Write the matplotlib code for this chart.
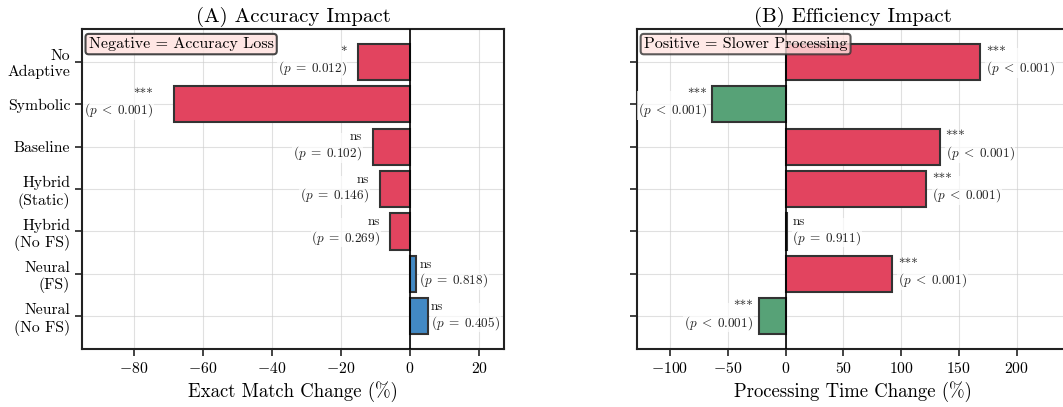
import numpy as np
import matplotlib
matplotlib.use("Agg")
import matplotlib.pyplot as plt

plt.rcParams['font.family'] = ['cmr10']
plt.rcParams['mathtext.fontset'] = 'cm'
plt.rcParams['axes.formatter.use_mathtext'] = True
plt.rcParams['axes.unicode_minus'] = True

# data
conditions = ["No\nAdaptive", "Symbolic", "Baseline", "Hybrid\n(Static)",
              "Hybrid\n(No FS)", "Neural\n(FS)", "Neural\n(No FS)"]
acc_change = [-15.0, -68.4, -10.8, -8.8, -5.7, 1.7, 5.1]
acc_stars = ["*", "***", "ns", "ns", "ns", "ns", "ns"]
acc_p = ["= 0.012", "< 0.001", "= 0.102", "= 0.146", "= 0.269", "= 0.818", "= 0.405"]
time_change = [168.6, -63.3, 133.6, 122.0, 1.0, 92.3, -23.1]
time_stars = ["***", "***", "***", "***", "ns", "***", "***"]
time_p = ["< 0.001", "< 0.001", "< 0.001", "< 0.001", "= 0.911", "< 0.001", "< 0.001"]

RED = '#E2445F'
BLUE = '#4289C4'
GREEN = '#57A277'
ANN = dict(va='center', fontsize=9.5, color='#222222', linespacing=1.05, zorder=4,
           bbox=dict(facecolor='white', edgecolor='none', alpha=0.7, pad=0.5))

fig = plt.figure(figsize=(10.63, 4.07), dpi=100)
ax1 = fig.add_axes([0.0771, 0.1425, 0.397, 0.786])
ax2 = fig.add_axes([0.5992, 0.1425, 0.4060, 0.786])

y = np.arange(len(conditions))


def style(ax):
    ax.grid(True, color='#cccccc', alpha=0.6, lw=0.8)
    ax.set_axisbelow(True)
    for s in ax.spines.values():
        s.set_color('#222222')
        s.set_linewidth(1.5)
    ax.tick_params(axis='both', direction='out', length=5, width=1.2,
                   labelsize=11.3, color='#222222')
    ax.axvline(0, color='black', lw=1.2, zorder=3)


def label(stars, p):
    rel, num = p.split()
    return stars + "\n($p\\;" + rel + "\\;" + num + "$)"


# (A) accuracy
cols1 = [RED if v < 0 else BLUE for v in acc_change]
ax1.barh(y, acc_change, height=0.85, color=cols1, edgecolor='#333333',
         linewidth=1.5, zorder=2)
for i, v in enumerate(acc_change):
    if v < 0:
        ax1.text(v * 1.05 - 2.6, i, label(acc_stars[i], acc_p[i]), ha='right', **ANN)
    else:
        ax1.text(v + 1.0, i, label(acc_stars[i], acc_p[i]), ha='left', **ANN)
ax1.set_yticks(y)
ax1.set_yticklabels(conditions)
ax1.set_ylim(len(conditions) - 0.23, -0.77)
ax1.set_xlim(-95, 27.2)
ax1.set_xticks([-80, -60, -40, -20, 0, 20])
ax1.set_xlabel("Exact Match Change (%)", fontsize=13.5)
ax1.set_title("(A) Accuracy Impact", fontsize=15, pad=5)
style(ax1)
ax1.text(0.016, 0.975, "Negative = Accuracy Loss", transform=ax1.transAxes,
         ha='left', va='top', fontsize=11.5, zorder=5,
         bbox=dict(boxstyle='round,pad=0.2', facecolor='#FFE4E1', alpha=0.9,
                   edgecolor='#333333', lw=1.5))

# (B) efficiency
cols2 = [RED if v > 0 else GREEN for v in time_change]
ax2.barh(y, time_change, height=0.85, color=cols2, edgecolor='#333333',
         linewidth=1.5, zorder=2)
for i, v in enumerate(time_change):
    if v < 0:
        ax2.text(v - 5, i, label(time_stars[i], time_p[i]), ha='right', **ANN)
    else:
        ax2.text(v + 5, i, label(time_stars[i], time_p[i]), ha='left', **ANN)
ax2.set_yticks(y)
ax2.set_yticklabels([])
ax2.set_ylim(len(conditions) - 0.23, -0.77)
ax2.set_xlim(-128.6, 245)
ax2.set_xticks([-100, -50, 0, 50, 100, 150, 200])
ax2.set_xlabel("Processing Time Change (%)", fontsize=13.5)
ax2.set_title("(B) Efficiency Impact", fontsize=15, pad=5)
style(ax2)
ax2.text(0.016, 0.975, "Positive = Slower Processing", transform=ax2.transAxes,
         ha='left', va='top', fontsize=11.5, zorder=5,
         bbox=dict(boxstyle='round,pad=0.2', facecolor='#FFE4E1', alpha=0.8,
                   edgecolor='#333333', lw=1.5))

fig.savefig("out.png", dpi=100)
